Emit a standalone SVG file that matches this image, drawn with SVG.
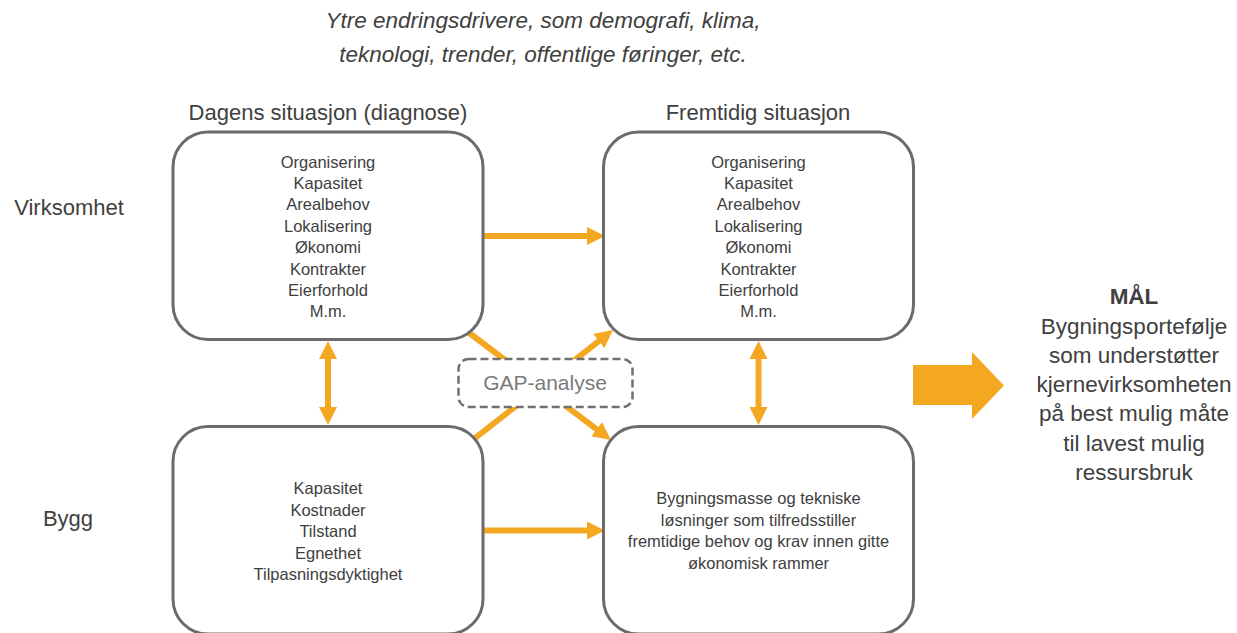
<svg xmlns="http://www.w3.org/2000/svg" width="1237" height="633" viewBox="0 0 1237 633">
<style>
text{font-family:"Liberation Sans",Arial,sans-serif;fill:#404040;text-anchor:middle}
.it{font-style:italic;font-size:22.5px}
.hd{font-size:22px}
.bx{font-size:16.5px}
.goal{font-size:22.5px}
.box{fill:#fff;stroke:#6b6b6b;stroke-width:3}
.conn{stroke:#F4A822;stroke-width:6;fill:none}
.gap{fill:#fff;stroke:#707070;stroke-width:2.5;stroke-dasharray:8 4}
</style>
<defs>
<marker id="ah" viewBox="0 0 18 18" refX="4" refY="9" markerWidth="18" markerHeight="18" markerUnits="userSpaceOnUse" orient="auto-start-reverse">
<path d="M0,0 L18,9 L0,18 z" fill="#F4A822"/>
</marker>
</defs>
<g id="top-text">
<text class="it" x="543" y="28">Ytre endringsdrivere, som demografi, klima,</text>
<text class="it" x="543" y="62">teknologi, trender, offentlige føringer, etc.</text>
</g>
<g id="row-labels">
<text class="hd" x="69" y="215">Virksomhet</text>
<text class="hd" x="68" y="526">Bygg</text>
</g>
<g id="col-labels">
<text class="hd" x="328" y="120">Dagens situasjon (diagnose)</text>
<text class="hd" x="758" y="120">Fremtidig situasjon</text>
</g>
<g id="connectors">
<line class="conn" x1="483" y1="236" x2="591" y2="236" marker-end="url(#ah)"/>
<line class="conn" x1="483" y1="530.5" x2="591" y2="530.5" marker-end="url(#ah)"/>
<line class="conn" x1="328" y1="355" x2="328" y2="411" marker-start="url(#ah)" marker-end="url(#ah)"/>
<line class="conn" x1="758.5" y1="355" x2="758.5" y2="411" marker-start="url(#ah)" marker-end="url(#ah)"/>
<line class="conn" x1="466" y1="330.5" x2="599.8" y2="431.6" marker-end="url(#ah)"/>
<line class="conn" x1="472" y1="440.5" x2="602" y2="338.6" marker-end="url(#ah)"/>
</g>
<g id="node-dagens-virksomhet">
<rect class="box" x="173" y="132" width="310" height="207.5" rx="35"/>
<text class="bx" x="328" y="167.5">Organisering</text>
<text class="bx" x="328" y="189">Kapasitet</text>
<text class="bx" x="328" y="210.3">Arealbehov</text>
<text class="bx" x="328" y="231.7">Lokalisering</text>
<text class="bx" x="328" y="253.1">Økonomi</text>
<text class="bx" x="328" y="274.5">Kontrakter</text>
<text class="bx" x="328" y="295.9">Eierforhold</text>
<text class="bx" x="328" y="317.3">M.m.</text>
</g>
<g id="node-fremtidig-virksomhet">
<rect class="box" x="603.5" y="132" width="310" height="207.5" rx="35"/>
<text class="bx" x="758.5" y="167.5">Organisering</text>
<text class="bx" x="758.5" y="189">Kapasitet</text>
<text class="bx" x="758.5" y="210.3">Arealbehov</text>
<text class="bx" x="758.5" y="231.7">Lokalisering</text>
<text class="bx" x="758.5" y="253.1">Økonomi</text>
<text class="bx" x="758.5" y="274.5">Kontrakter</text>
<text class="bx" x="758.5" y="295.9">Eierforhold</text>
<text class="bx" x="758.5" y="317.3">M.m.</text>
</g>
<g id="node-dagens-bygg">
<rect class="box" x="173" y="426.5" width="310" height="207.5" rx="35"/>
<text class="bx" x="328" y="494">Kapasitet</text>
<text class="bx" x="328" y="515.5">Kostnader</text>
<text class="bx" x="328" y="537">Tilstand</text>
<text class="bx" x="328" y="558.5">Egnethet</text>
<text class="bx" x="328" y="580">Tilpasningsdyktighet</text>
</g>
<g id="node-fremtidig-bygg">
<rect class="box" x="603.5" y="426.5" width="310" height="207.5" rx="35"/>
<text class="bx" x="758.5" y="504">Bygningsmasse og tekniske</text>
<text class="bx" x="758.5" y="525.5">løsninger som tilfredsstiller</text>
<text class="bx" x="758.5" y="547">fremtidige behov og krav innen gitte</text>
<text class="bx" x="758.5" y="568.5">økonomisk rammer</text>
</g>
<g id="node-gap">
<rect class="gap" x="458.5" y="359" width="174" height="48" rx="10"/>
<text x="545" y="389.5" style="font-size:21px;fill:#7a7a7a">GAP-analyse</text>
</g>
<g id="big-arrow">
<polygon points="913,365 972,365 972,352 1004,385.5 972,419 972,405 913,405" fill="#F4A822"/>
</g>
<g id="node-goal">
<text class="goal" x="1134" y="303.5" style="font-weight:bold">MÅL</text>
<text class="goal" x="1134" y="333.5">Bygningsportefølje</text>
<text class="goal" x="1134" y="363">som understøtter</text>
<text class="goal" x="1134" y="392">kjernevirksomheten</text>
<text class="goal" x="1134" y="421">på best mulig måte</text>
<text class="goal" x="1134" y="450.5">til lavest mulig</text>
<text class="goal" x="1134" y="480">ressursbruk</text>
</g>
</svg>
